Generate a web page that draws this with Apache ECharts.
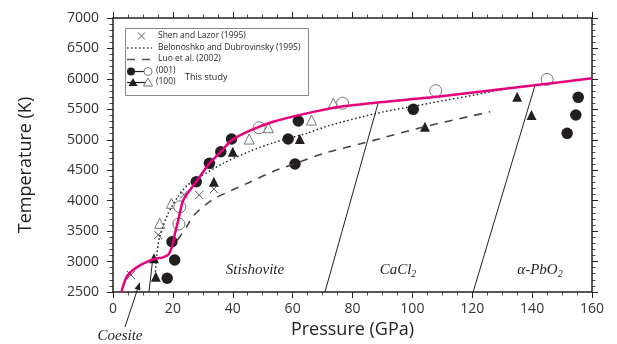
<!DOCTYPE html>
<html><head><meta charset="utf-8">
<script src="https://cdn.jsdelivr.net/npm/echarts@6/dist/echarts.min.js"></script>
<style>html,body{margin:0;padding:0;background:#fff}#c{width:617px;height:344px}</style>
</head><body><div id="c"></div>
<script>
// ---- data (pressure GPa, temperature K) ----
const xTickLabels = [0,20,40,60,80,100,120,140,160];
const yTickLabels = [2500,3000,3500,4000,4500,5000,5500,6000,6500,7000];

const thisStudyCurve = [[2.8,2500],[4.6,2750],[7.9,2905],[13.5,3040],[16.5,3065],[18.6,3120],[19.8,3260],[20.7,3460],[21.8,3680],[23.5,4010],[27.8,4311],[32.2,4613],[36,4804],[39.6,4990],[45.7,5150],[53.5,5297],[64.7,5434],[75.8,5543],[89,5615],[109,5710],[141.5,5900],[160,6010]];
const belonoshkoCurve = [[14,2700],[14.6,3100],[15.6,3410],[18.4,3790],[21.7,4065],[25,4260],[29,4390],[36.8,4613],[45.7,4810],[53.5,4950],[64.7,5106],[72,5230],[88,5434],[105.8,5600],[123.6,5763],[133,5850],[139,5885]];
const luoCurve = [[21.5,3350],[24.6,3573],[27,3760],[33,4010],[40,4180],[45.5,4300],[53.5,4480],[60.8,4610],[70,4770],[87,4990],[104,5214],[126,5460]];

const boundaryCoeStish = [[12,2500],[13.3,3050]];
const boundaryStishCaCl2 = [[70.8,2500],[88.6,5610]];
const boundaryCaCl2PbO2 = [[120.3,2500],[141,5900]];
const coesiteArrow = [[4,1925],[9,2664]];

const shenLazor = [[6,2780],[15.1,3436],[23.7,4100],[28.8,4093],[33.7,4190]];
const filled001 = [[18.1,2725],[20.6,3025],[19.7,3326],[27.8,4311],[32.2,4613],[36,4804],[39.6,5012],[58.5,5012],[61.9,5308],[60.8,4602],[100.3,5500],[151.7,5106],[154.6,5406],[155.4,5697]];
const open001 = [[22.0,3617],[22.3,3900],[48.8,5198],[76.7,5600],[107.8,5806],[145,5992]];
const filled100 = [[13.7,3053],[14.3,2750],[33.7,4311],[40,4804],[62.4,5012],[104.2,5214],[135,5707],[139.8,5406]];
const open100 = [[15.6,3628],[19.5,3957],[45.5,5012],[51.9,5198],[66.3,5324],[73.6,5600]];

const legendTexts = ['Shen and Lazor (1995)','Belonoshko and Dubrovinsky (1995)','Luo et al. (2002)','(001)','(100)','This study'];

// ---- chart ----
const chart = echarts.init(document.getElementById('c'), null, {renderer:'canvas'});
const ink = '#231f20';
const axisCommon = {
  type:'value',
  axisLine:{show:true, onZero:false, lineStyle:{color:ink, width:1.5}},
  axisTick:{show:true, inside:false, length:6, lineStyle:{color:ink, width:1}},
  minorTick:{show:true, length:3.5, lineStyle:{color:ink, width:0.8}},
  splitLine:{show:false}, minorSplitLine:{show:false}
};
const labelFont = {fontFamily:'Open Sans', fontSize:14, color:'#333'};

const sym = (name, size, fill, stroke) => ({symbol:name, symbolSize:size,
  itemStyle:{color:fill, borderColor:stroke || fill, borderWidth: stroke ? 1 : 0, opacity:1}});

const option = {
  animation:false,
  backgroundColor:'#fff',
  grid:{left:113, right:25, top:18, bottom:52, containLabel:false},
  xAxis:[
    Object.assign({}, axisCommon, {position:'bottom', min:0, max:160, interval:20,
      minorTick:Object.assign({}, axisCommon.minorTick, {splitNumber:4}),
      axisLabel:Object.assign({margin:10, formatter:v=>xTickLabels.includes(v)?String(v):''}, labelFont),
      name:'Pressure (GPa)', nameLocation:'middle', nameGap:24,
      nameTextStyle:{fontFamily:'Open Sans', fontSize:18, color:ink}}),
    Object.assign({}, axisCommon, {position:'top', min:0, max:160, interval:20,
      minorTick:Object.assign({}, axisCommon.minorTick, {splitNumber:4}),
      axisLabel:{show:false}})
  ],
  yAxis:[
    Object.assign({}, axisCommon, {position:'left', min:2500, max:7000, interval:500,
      minorTick:Object.assign({}, axisCommon.minorTick, {splitNumber:5}),
      axisLabel:Object.assign({margin:14, formatter:v=>yTickLabels.includes(v)?String(v):''}, labelFont)}),
    Object.assign({}, axisCommon, {position:'right', min:2500, max:7000, interval:500,
      minorTick:Object.assign({}, axisCommon.minorTick, {splitNumber:5}),
      axisLabel:{show:false}})
  ],
  series:[
    {type:'line', data:boundaryCoeStish, symbol:'none', lineStyle:{color:ink, width:1}},
    {type:'line', data:boundaryStishCaCl2, symbol:'none', lineStyle:{color:ink, width:1}},
    {type:'line', data:boundaryCaCl2PbO2, symbol:'none', lineStyle:{color:ink, width:1}},
    {type:'line', data:luoCurve, symbol:'none', smooth:0.25, lineStyle:{color:'#444', width:1.6, type:[8,7]}},
    {type:'line', data:belonoshkoCurve, symbol:'none', smooth:0.25, lineStyle:{color:'#222', width:1.5, type:[1.5,2.5]}},
    {type:'line', data:thisStudyCurve, symbol:'none', smooth:0.25, lineStyle:{color:'#e5007d', width:2.5}},
    Object.assign({type:'scatter', data:shenLazor}, sym('path://M0,0L10,10M10,0L0,10', 8, 'rgba(0,0,0,0)', '#555')),
    Object.assign({type:'scatter', data:open100}, sym('triangle', 10, '#fff', '#777')),
    Object.assign({type:'scatter', data:open001}, sym('circle', 12, '#fff', '#777')),
    Object.assign({type:'scatter', data:filled100}, sym('triangle', 10, ink, null)),
    Object.assign({type:'scatter', data:filled001}, sym('circle', 11.5, ink, null))
  ],
  graphic:[
    {type:'text', x:26, y:165, rotation:Math.PI/2,
      style:{text:'Temperature (K)', fontFamily:'Open Sans', fontSize:18, fill:ink, align:'center', verticalAlign:'middle'}},
    {type:'text', x:120, y:336, style:{text:'Coesite', fontFamily:'Liberation Serif', fontStyle:'italic', fontSize:15, fill:ink, align:'center', verticalAlign:'middle'}},
    {type:'text', x:255, y:270, style:{text:'Stishovite', fontFamily:'Liberation Serif', fontStyle:'italic', fontSize:15, fill:ink, align:'center', verticalAlign:'middle'}},
    {type:'text', x:398, y:270, style:{text:'CaCl{s|2}', fontFamily:'Liberation Serif', fontStyle:'italic', fontSize:15, fill:ink, align:'center', verticalAlign:'middle',
      rich:{s:{fontFamily:'Liberation Serif', fontStyle:'italic', fontSize:10, fill:ink, padding:[8,0,0,0]}}}},
    {type:'text', x:540, y:270, style:{text:'α-PbO{s|2}', fontFamily:'Liberation Serif', fontStyle:'italic', fontSize:15, fill:ink, align:'center', verticalAlign:'middle',
      rich:{s:{fontFamily:'Liberation Serif', fontStyle:'italic', fontSize:10, fill:ink, padding:[8,0,0,0]}}}},
    // legend box
    {type:'group', z:100, children:[
      {type:'rect', shape:{x:125.5, y:28.5, width:183, height:67}, style:{fill:'#fff', stroke:'#888', lineWidth:1}},
      {type:'line', shape:{x1:138, y1:32.5, x2:145, y2:39.5}, style:{stroke:'#555', lineWidth:1}},
      {type:'line', shape:{x1:138, y1:39.5, x2:145, y2:32.5}, style:{stroke:'#555', lineWidth:1}},
      {type:'text', x:158, y:36, style:{text:legendTexts[0], fontFamily:'Open Sans', fontSize:8.5, fill:ink, verticalAlign:'middle'}},
      {type:'line', shape:{x1:127, y1:48, x2:152, y2:48}, style:{stroke:'#333', lineWidth:1.3, lineDash:[1.5,2.5]}},
      {type:'text', x:158, y:47.5, style:{text:legendTexts[1], fontFamily:'Open Sans', fontSize:8.5, fill:ink, verticalAlign:'middle'}},
      {type:'line', shape:{x1:127, y1:59.5, x2:152, y2:59.5}, style:{stroke:'#555', lineWidth:1.5, lineDash:[8,7]}},
      {type:'text', x:158, y:59, style:{text:legendTexts[2], fontFamily:'Open Sans', fontSize:8.5, fill:ink, verticalAlign:'middle'}},
      {type:'line', shape:{x1:127, y1:71.5, x2:150, y2:71.5}, style:{stroke:ink, lineWidth:1.2}},
      {type:'circle', shape:{cx:131, cy:71.5, r:4}, style:{fill:ink}},
      {type:'circle', shape:{cx:148, cy:71.5, r:4}, style:{fill:'#fff', stroke:'#777', lineWidth:1}},
      {type:'text', x:156, y:71, style:{text:legendTexts[3], fontFamily:'Open Sans', fontSize:8.5, fill:ink, verticalAlign:'middle'}},
      {type:'line', shape:{x1:127, y1:82.5, x2:150, y2:82.5}, style:{stroke:ink, lineWidth:1.2}},
      {type:'polygon', shape:{points:[[128.5,86],[137.5,86],[133,78]]}, style:{fill:ink}},
      {type:'polygon', shape:{points:[[143.5,86],[152.5,86],[148,78]]}, style:{fill:'#fff', stroke:'#777', lineWidth:1}},
      {type:'text', x:156, y:82, style:{text:legendTexts[4], fontFamily:'Open Sans', fontSize:8.5, fill:ink, verticalAlign:'middle'}},
      {type:'text', x:185, y:77.5, style:{text:legendTexts[5], fontFamily:'Open Sans', fontSize:9, fill:ink, verticalAlign:'middle'}}
    ]}
  ]
};
chart.setOption(option);

// Coesite arrow, positioned through the chart's own scales
const tail = chart.convertToPixel({xAxisIndex:0, yAxisIndex:0}, coesiteArrow[0]);
const head = chart.convertToPixel({xAxisIndex:0, yAxisIndex:0}, coesiteArrow[1]);
const ang = Math.atan2(head[1]-tail[1], head[0]-tail[0]);
const L = 8, W = 3;
const bx = head[0] - L*Math.cos(ang), by = head[1] - L*Math.sin(ang);
const px = -Math.sin(ang)*W, py = Math.cos(ang)*W;
chart.setOption({graphic:[
  {id:'arrowLine', type:'line', shape:{x1:tail[0], y1:tail[1], x2:bx, y2:by}, style:{stroke:ink, lineWidth:1}},
  {id:'arrowHead', type:'polygon', shape:{points:[[head[0],head[1]],[bx+px,by+py],[bx-px,by-py]]}, style:{fill:ink}}
]});
</script>
</body></html>
